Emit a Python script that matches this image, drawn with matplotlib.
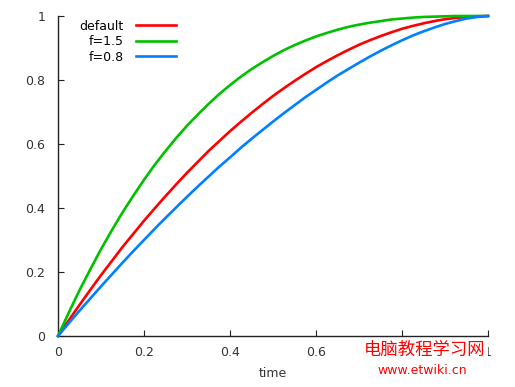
import matplotlib
matplotlib.use("Agg")
import matplotlib.pyplot as plt

x_vals = [0, 0.025, 0.05, 0.075, 0.1, 0.125, 0.15, 0.175, 0.2, 0.225, 0.25,
          0.275, 0.3, 0.325, 0.35, 0.375, 0.4, 0.425, 0.45, 0.475, 0.5,
          0.525, 0.55, 0.575, 0.6, 0.625, 0.65, 0.675, 0.7, 0.725, 0.75,
          0.775, 0.8, 0.825, 0.85, 0.875, 0.9, 0.925, 0.95, 0.975, 1.0]
default_vals = [0, 0.049, 0.097, 0.144, 0.19, 0.234, 0.278, 0.319, 0.36, 0.399, 0.437,
                0.474, 0.51, 0.544, 0.578, 0.609, 0.64, 0.669, 0.697, 0.724, 0.75,
                0.774, 0.797, 0.819, 0.84, 0.859, 0.877, 0.894, 0.91, 0.924, 0.937,
                0.949, 0.96, 0.969, 0.977, 0.984, 0.99, 0.994, 0.997, 0.999, 1.0]
f15_vals = [0, 0.073, 0.143, 0.208, 0.271, 0.330, 0.386, 0.438, 0.488, 0.535, 0.578,
            0.619, 0.657, 0.692, 0.725, 0.756, 0.784, 0.810, 0.834, 0.855, 0.875,
            0.893, 0.909, 0.923, 0.936, 0.947, 0.957, 0.966, 0.973, 0.979, 0.984,
            0.989, 0.992, 0.995, 0.997, 0.998, 0.999, 1.0, 1.0, 1.0, 1.0]
f08_vals = [0, 0.040, 0.079, 0.117, 0.155, 0.192, 0.229, 0.265, 0.300, 0.335, 0.369,
            0.402, 0.435, 0.467, 0.498, 0.529, 0.558, 0.588, 0.616, 0.643, 0.670,
            0.696, 0.721, 0.746, 0.769, 0.792, 0.814, 0.834, 0.854, 0.873, 0.891,
            0.908, 0.924, 0.939, 0.952, 0.964, 0.975, 0.984, 0.992, 0.997, 1.0]
series_labels = ["default", "f=1.5", "f=0.8"]
tick_vals = [0, 0.2, 0.4, 0.6, 0.8, 1]
tick_labels = ["0", "0.2", "0.4", "0.6", "0.8", "1"]

plt.rcParams['font.family'] = ['DejaVu Sans']
fig = plt.figure(figsize=(5.15, 3.87), dpi=100)
ax = fig.add_axes([58/515, 51/387, 430/515, 320/387])

colors = ["#ff0000", "#00c000", "#0080ff"]
for vals, lab, c in zip([default_vals, f15_vals, f08_vals], series_labels, colors):
    ax.plot(x_vals, vals, color=c, lw=1.9, label=lab, clip_on=False, zorder=3)

ax.set_xlim(0, 1)
ax.set_ylim(0, 1)
ax.set_xticks(tick_vals)
ax.set_xticklabels(tick_labels)
ax.set_yticks(tick_vals)
ax.set_yticklabels(tick_labels)
for s in ["top", "right"]:
    ax.spines[s].set_visible(False)
for s in ["left", "bottom"]:
    ax.spines[s].set_color("#222222")
    ax.spines[s].set_linewidth(1.0)
ax.tick_params(axis="both", direction="in", length=4, width=0.8,
               colors="#222222", labelsize=9, labelcolor="#333333")
ax.tick_params(axis="y", pad=9)
ax.tick_params(axis="x", pad=7)
ax.set_xlabel("time", fontsize=9, color="#333333", labelpad=6)

ax.legend(loc="upper left", bbox_to_anchor=(0.033, 1.012), frameon=False,
          markerfirst=False, fontsize=9, handlelength=3.2, handletextpad=1.0,
          labelspacing=0.2, borderaxespad=0.2)

fig.text(425/515, 1 - 349.5/387, "电脑教程学习网", color="#ff0000", fontsize=12.5,
         family=["Noto Sans CJK SC", "DejaVu Sans"], ha="center", va="center",
         bbox=dict(boxstyle="square,pad=0.1", fc="white", ec="none"), zorder=10)
fig.text(422/515, 1 - 370/387, "www.etwiki.cn", color="#ff0000", fontsize=9,
         family=["DejaVu Sans"], ha="center", va="center", zorder=10)

fig.savefig("out.png", dpi=100)
